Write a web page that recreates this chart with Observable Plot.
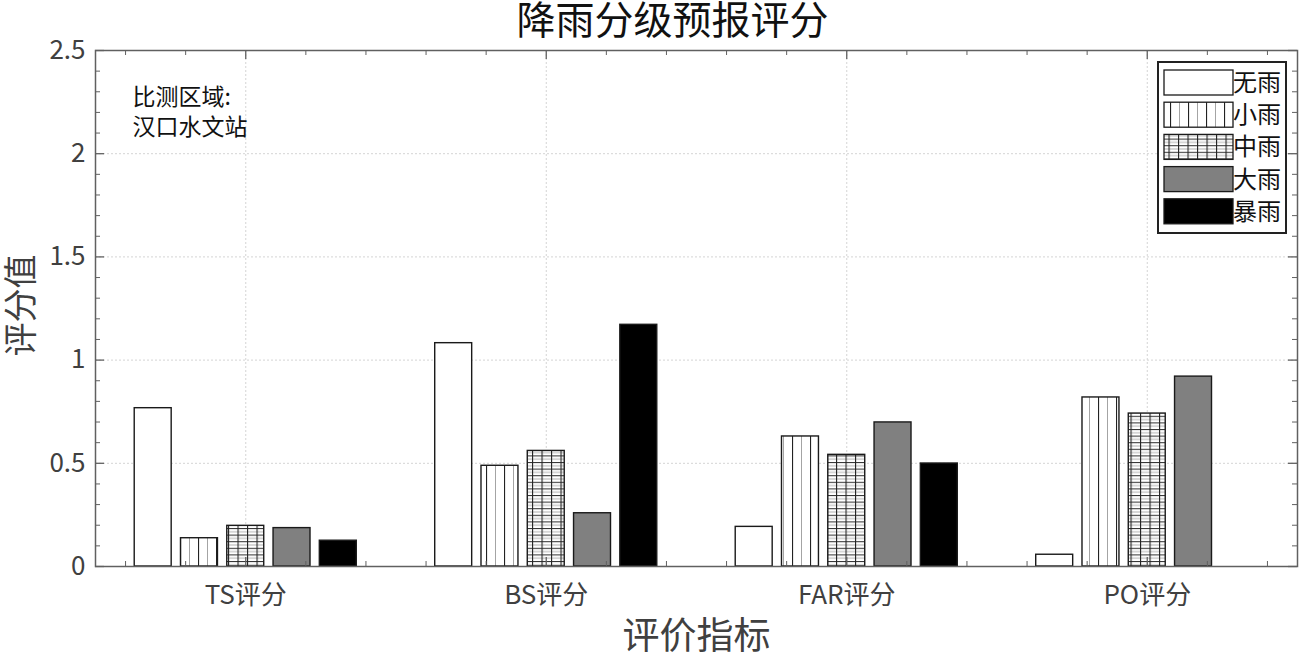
<!DOCTYPE html>
<html>
<head>
<meta charset="utf-8">
<script src="https://cdn.jsdelivr.net/npm/d3@7"></script>
<script src="https://cdn.jsdelivr.net/npm/@observablehq/plot@0.6"></script>
<style>
  html, body { margin: 0; padding: 0; background: #fff; }
  #chart svg { display: block; }
</style>
</head>
<body>
<div id="chart"></div>
<script>
// ---- data ----
const categories = ["TS评分", "BS评分", "FAR评分", "PO评分"];
const series = ["无雨", "小雨", "中雨", "大雨", "暴雨"];
const noRain   = [0.767, 1.082, 0.192, 0.057];
const lightRain = [0.137, 0.488, 0.630, 0.819];
const moderateRain = [0.197, 0.560, 0.541, 0.741];
const heavyRain = [0.186, 0.258, 0.698, 0.920];
const stormRain = [0.125, 1.171, 0.499, 0.0];
const yTicks = [0, 0.5, 1, 1.5, 2, 2.5];
const yTickLabels = ["0", "0.5", "1", "1.5", "2", "2.5"];
const titleText = "降雨分级预报评分";
const xLabel = "评价指标";
const yLabel = "评分值";
const noteLines = ["比测区域:", "汉口水文站"];

const seriesValues = [noRain, lightRain, moderateRain, heavyRain, stormRain];
const fills = ["#ffffff", "url(#pat-v)", "url(#pat-g)", "#808080", "#000000"];

// layout constants
const W = 1299, H = 663, mL = 95, mR = 2, mT = 50, mB = 97;
const xDomain = [0.5, 4.5], yDomain = [0, 2.5];
const pxPerX = (W - mL - mR) / (xDomain[1] - xDomain[0]);
const pxPerY = (H - mT - mB) / (yDomain[1] - yDomain[0]);
const majorLen = 9, minorLen = 5;

const groupStep = 0.154, barHalf = 0.0615;
const bars = [];
categories.forEach((c, ci) => {
  series.forEach((s, si) => {
    const v = seriesValues[si][ci];
    if (v > 0) {
      const cx = ci + 1 + (si - 2) * groupStep;
      bars.push({cat: c, series: s, value: v, x1: cx - barHalf, x2: cx + barHalf});
    }
  });
});

const xMajor = [1, 2, 3, 4];
const xMinor = d3.range(0.6, 4.45, 0.2).map(d => +d.toFixed(2)).filter(d => !xMajor.includes(d));
const yMinor = d3.range(0, 2.51, 0.1).map(d => +d.toFixed(2)).filter(d => !yTicks.includes(d));
const axisColor = "#606060";
const font = "'Noto Sans CJK SC', 'Noto Sans', sans-serif";

function yTickRules(vals, len, sw) {
  const dx = len / pxPerX;
  return [
    Plot.ruleY(vals, {y: d => d, x1: xDomain[0], x2: xDomain[0] + dx, stroke: axisColor, strokeWidth: sw}),
    Plot.ruleY(vals, {y: d => d, x1: xDomain[1] - dx, x2: xDomain[1], stroke: axisColor, strokeWidth: sw})
  ];
}
function xTickRules(vals, len, sw) {
  const dy = len / pxPerY;
  return [
    Plot.ruleX(vals, {x: d => d, y1: yDomain[0], y2: yDomain[0] + dy, stroke: axisColor, strokeWidth: sw}),
    Plot.ruleX(vals, {x: d => d, y1: yDomain[1] - dy, y2: yDomain[1], stroke: axisColor, strokeWidth: sw})
  ];
}

const plot = Plot.plot({
  width: W,
  height: H,
  marginLeft: mL,
  marginRight: mR,
  marginTop: mT,
  marginBottom: mB,
  style: {fontFamily: font, background: "#fff"},
  x: {domain: xDomain, axis: null},
  y: {domain: yDomain, axis: null},
  color: {domain: series, range: fills},
  marks: [
    // grid
    Plot.ruleY(yTicks.slice(1, -1), {stroke: "#d4d4d4", strokeDasharray: "2,2", strokeWidth: 1}),
    Plot.ruleX(xMajor, {stroke: "#d4d4d4", strokeDasharray: "2,2", strokeWidth: 1}),
    // bars
    Plot.rectY(bars, {x1: "x1", x2: "x2", y1: 0, y2: "value", fill: "series", stroke: "#1a1a1a", strokeWidth: 1.4}),
    // frame
    Plot.frame({stroke: axisColor, strokeWidth: 1.5}),
    // inward ticks
    ...yTickRules(yTicks, majorLen, 1.3),
    ...yTickRules(yMinor, minorLen, 1),
    ...xTickRules(xMajor, majorLen, 1.3),
    ...xTickRules(xMinor, minorLen, 1),
    // tick labels
    Plot.text(yTicks, {x: xDomain[0], y: d => d, text: (d, i) => yTickLabels[i], textAnchor: "end", dx: -10, fontSize: 26, fill: "#404040"}),
    Plot.text(categories, {x: (d, i) => i + 1, y: 0, text: d => d, dy: 29, lineAnchor: "middle", fontSize: 26, fill: "#404040"}),
    // axis labels & title
    Plot.text([xLabel], {frameAnchor: "bottom", text: d => d, dy: 71, lineAnchor: "middle", textAnchor: "middle", fontSize: 37, fill: "#404040"}),
    Plot.text([yLabel], {frameAnchor: "left", text: d => d, dx: -73, dy: -3, rotate: -90, textAnchor: "middle", lineAnchor: "middle", fontSize: 34, fill: "#404040"}),
    Plot.text([titleText], {frameAnchor: "top", text: d => d, dy: -29, dx: -24, lineAnchor: "middle", textAnchor: "middle", fontSize: 39, fill: "#111"}),
    // note
    Plot.text([noteLines[0]], {frameAnchor: "top-left", text: d => d, dx: 37, dy: 47, textAnchor: "start", lineAnchor: "middle", fontSize: 23, fill: "#111"}),
    Plot.text([noteLines[1]], {frameAnchor: "top-left", text: d => d, dx: 37, dy: 77, textAnchor: "start", lineAnchor: "middle", fontSize: 23, fill: "#111"})
  ]
});

// patterns
const svg = d3.select(plot);
const defs = svg.insert("defs", ":first-child");
const pv = defs.append("pattern").attr("id", "pat-v").attr("patternUnits", "userSpaceOnUse").attr("width", 18).attr("height", 10);
pv.append("rect").attr("width", 18).attr("height", 10).attr("fill", "#fff");
pv.append("line").attr("x1", 0.5).attr("x2", 0.5).attr("y1", 0).attr("y2", 10).attr("stroke", "#222").attr("stroke-width", 1.2);
pv.append("line").attr("x1", 9.5).attr("x2", 9.5).attr("y1", 0).attr("y2", 10).attr("stroke", "#9a9a9a").attr("stroke-width", 0.9);
const pg = defs.append("pattern").attr("id", "pat-g").attr("patternUnits", "userSpaceOnUse").attr("width", 9.5).attr("height", 6.6);
pg.append("rect").attr("width", 9.5).attr("height", 6.6).attr("fill", "#fff");
pg.append("line").attr("x1", 0).attr("x2", 9.5).attr("y1", 3.8).attr("y2", 3.8).attr("stroke", "#a8a8a8").attr("stroke-width", 0.9);
pg.append("line").attr("x1", 0).attr("x2", 9.5).attr("y1", 0.5).attr("y2", 0.5).attr("stroke", "#333").attr("stroke-width", 1.1);
pg.append("line").attr("x1", 0.5).attr("x2", 0.5).attr("y1", 0).attr("y2", 6.6).attr("stroke", "#222").attr("stroke-width", 1.2);

// legend (inside axes, top right)
const lg = svg.append("g").attr("font-family", font).attr("text-anchor", "start");
lg.append("rect").attr("x", 1158).attr("y", 62).attr("width", 128).attr("height", 171)
  .attr("fill", "#fff").attr("stroke", "#222").attr("stroke-width", 2);
series.forEach((s, i) => {
  const y0 = 70 + i * 32.2;
  lg.append("rect").attr("x", 1164).attr("y", y0).attr("width", 69).attr("height", 25)
    .attr("fill", fills[i]).attr("stroke", "#1a1a1a").attr("stroke-width", 1.3);
  lg.append("text").attr("x", 1233).attr("y", y0 + 12.5).attr("dy", "0.35em")
    .attr("text-anchor", "start").attr("font-size", 24).attr("fill", "#111").text(s);
});

document.getElementById("chart").appendChild(plot);
</script>
</body>
</html>
